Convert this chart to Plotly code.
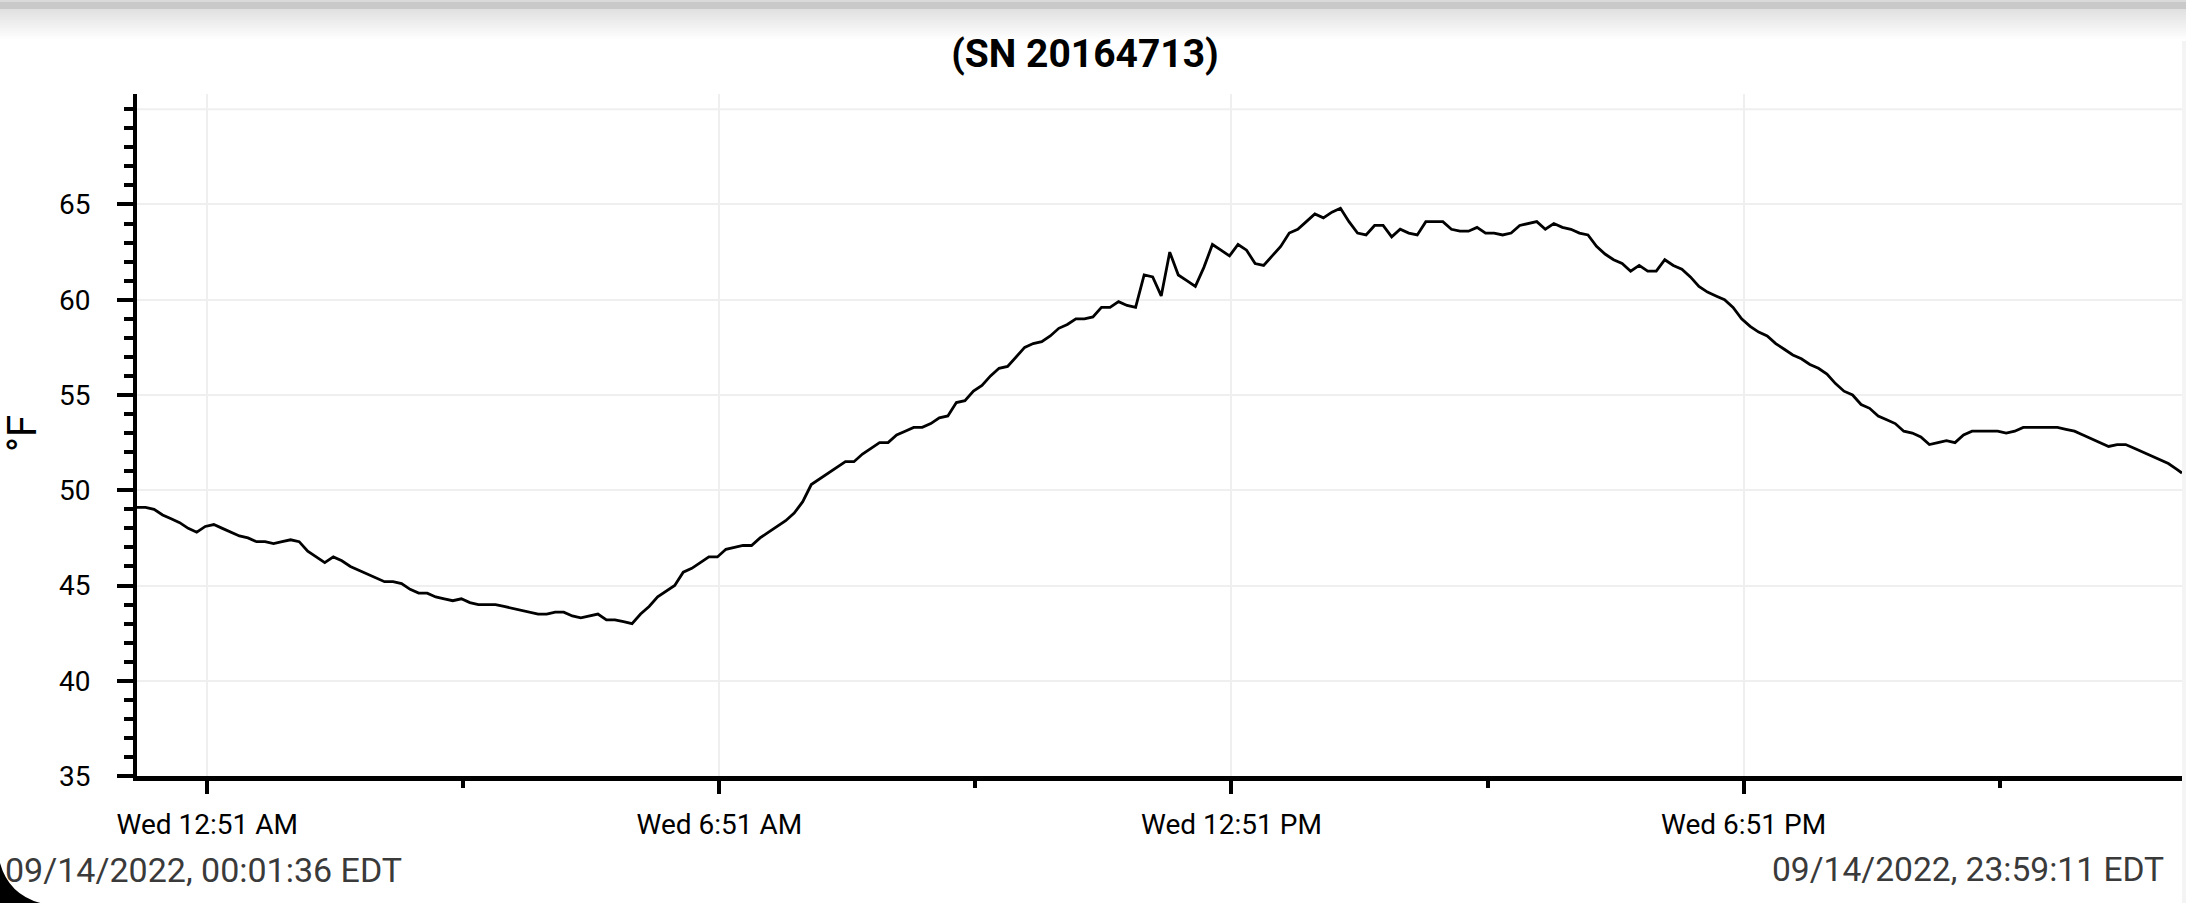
import pandas as pd
import plotly.graph_objects as go

# logger readings, one every 6 minutes from the first stamp
title_text = "(SN 20164713)"
first_stamp = "2022-09-14 00:01:36"
last_stamp = "2022-09-14 23:59:11"
step_minutes = 6
start_label = "09/14/2022, 00:01:36 EDT"
end_label = "09/14/2022, 23:59:11 EDT"

temps_f = [
    49.1, 49.1, 49.0, 48.7, 48.5, 48.3, 48.0, 47.8, 48.1, 48.2,
    48.0, 47.8, 47.6, 47.5, 47.3, 47.3, 47.2, 47.3, 47.4, 47.3,
    46.8, 46.5, 46.2, 46.5, 46.3, 46.0, 45.8, 45.6, 45.4, 45.2,
    45.2, 45.1, 44.8, 44.6, 44.6, 44.4, 44.3, 44.2, 44.3, 44.1,
    44.0, 44.0, 44.0, 43.9, 43.8, 43.7, 43.6, 43.5, 43.5, 43.6,
    43.6, 43.4, 43.3, 43.4, 43.5, 43.2, 43.2, 43.1, 43.0, 43.5,
    43.9, 44.4, 44.7, 45.0, 45.7, 45.9, 46.2, 46.5, 46.5, 46.9,
    47.0, 47.1, 47.1, 47.5, 47.8, 48.1, 48.4, 48.8, 49.4, 50.3,
    50.6, 50.9, 51.2, 51.5, 51.5, 51.9, 52.2, 52.5, 52.5, 52.9,
    53.1, 53.3, 53.3, 53.5, 53.8, 53.9, 54.6, 54.7, 55.2, 55.5,
    56.0, 56.4, 56.5, 57.0, 57.5, 57.7, 57.8, 58.1, 58.5, 58.7,
    59.0, 59.0, 59.1, 59.6, 59.6, 59.9, 59.7, 59.6, 61.3, 61.2,
    60.2, 62.5, 61.3, 61.0, 60.7, 61.7, 62.9, 62.6, 62.3, 62.9,
    62.6, 61.9, 61.8, 62.3, 62.8, 63.5, 63.7, 64.1, 64.5, 64.3,
    64.6, 64.8, 64.1, 63.5, 63.4, 63.9, 63.9, 63.3, 63.7, 63.5,
    63.4, 64.1, 64.1, 64.1, 63.7, 63.6, 63.6, 63.8, 63.5, 63.5,
    63.4, 63.5, 63.9, 64.0, 64.1, 63.7, 64.0, 63.8, 63.7, 63.5,
    63.4, 62.8, 62.4, 62.1, 61.9, 61.5, 61.8, 61.5, 61.5, 62.1,
    61.8, 61.6, 61.2, 60.7, 60.4, 60.2, 60.0, 59.6, 59.0, 58.6,
    58.3, 58.1, 57.7, 57.4, 57.1, 56.9, 56.6, 56.4, 56.1, 55.6,
    55.2, 55.0, 54.5, 54.3, 53.9, 53.7, 53.5, 53.1, 53.0, 52.8,
    52.4, 52.5, 52.6, 52.5, 52.9, 53.1, 53.1, 53.1, 53.1, 53.0,
    53.1, 53.3, 53.3, 53.3, 53.3, 53.3, 53.2, 53.1, 52.9, 52.7,
    52.5, 52.3, 52.4, 52.4, 52.2, 52.0, 51.8, 51.6, 51.4, 51.1,
]
last_temp_f = 50.9

tick_times = ["2022-09-14 00:51", "2022-09-14 06:51", "2022-09-14 12:51", "2022-09-14 18:51"]
tick_labels = ["Wed 12:51 AM", "Wed 6:51 AM", "Wed 12:51 PM", "Wed 6:51 PM"]
minor_tick_times = ["2022-09-14 03:51", "2022-09-14 09:51", "2022-09-14 15:51", "2022-09-14 21:51"]
y_tick_values = [35, 40, 45, 50, 55, 60, 65]
y_top = 70.8
y_bottom = 35

times = list(pd.date_range(first_stamp, periods=len(temps_f), freq=f"{step_minutes}min"))
times.append(pd.Timestamp(last_stamp))
temps = temps_f + [last_temp_f]

W, H = 2186, 903
margin = dict(l=137, r=4, t=94, b=127)
plot_w = W - margin["l"] - margin["r"]
plot_h = H - margin["t"] - margin["b"]


def paper_x(px):
    return (px - margin["l"]) / plot_w


def paper_y(py):
    return (H - margin["b"] - py) / plot_h


font = "Roboto, Arial, sans-serif"
grid = "#efefef"

fig = go.Figure()
fig.add_trace(go.Scatter(
    x=times, y=temps, mode="lines",
    line=dict(color="black", width=2.8),
    showlegend=False,
))

shapes = []
# faint top gridline at 70 (no label there)
shapes.append(dict(type="line", xref="paper", yref="y", x0=0, x1=1, y0=70, y1=70,
                   line=dict(color=grid, width=2), layer="below"))

# grey shadow band across the very top of the page
shapes.append(dict(type="rect", xref="paper", yref="paper", x0=paper_x(-5), x1=paper_x(W + 5),
                   y0=paper_y(2), y1=paper_y(-2), fillcolor="#dadada", line_width=0, layer="above"))
shapes.append(dict(type="rect", xref="paper", yref="paper", x0=paper_x(-5), x1=paper_x(W + 5),
                   y0=paper_y(9), y1=paper_y(2), fillcolor="#c9c9c9", line_width=0, layer="above"))
steps = 16
for i in range(steps):
    top = 9 + i * 2
    shade = int(0xe0 + (0xff - 0xe0) * (i + 1) / steps)
    shapes.append(dict(type="rect", xref="paper", yref="paper", x0=paper_x(-5), x1=paper_x(W + 5),
                       y0=paper_y(top + 2), y1=paper_y(top), fillcolor=f"rgb({shade},{shade},{shade})",
                       line_width=0, layer="above"))

# thin light strip at the right page edge
shapes.append(dict(type="rect", xref="paper", yref="paper", x0=paper_x(2182), x1=paper_x(W + 5),
                   y0=paper_y(H), y1=paper_y(40), fillcolor="#f4f4f4", line_width=0, layer="below"))

# dark rounded screen corner, bottom left
p = [(paper_x(0), paper_y(863)), (paper_x(10), paper_y(899)), (paper_x(50), paper_y(905)),
     (paper_x(-5), paper_y(910))]
corner_path = (f"M {p[0][0]},{p[0][1]} Q {p[1][0]},{p[1][1]} {p[2][0]},{p[2][1]} "
               f"L {p[3][0]},{p[3][1]} L {paper_x(-5)},{p[0][1]} Z")
shapes.append(dict(type="path", xref="paper", yref="paper", path=corner_path,
                   fillcolor="black", line_width=0, layer="above"))

annotations = [
    dict(text="°F", xref="paper", yref="paper", x=paper_x(22), y=paper_y(434),
         xanchor="center", yanchor="middle", textangle=-90, showarrow=False,
         font=dict(family=font, size=40, color="black")),
    dict(text=start_label, xref="paper", yref="paper", x=paper_x(3), y=paper_y(870),
         xanchor="left", yanchor="middle", showarrow=False,
         font=dict(family=font, size=34, color="#3a3a3a")),
    dict(text=end_label, xref="paper", yref="paper", x=paper_x(2166), y=paper_y(870),
         xanchor="right", yanchor="middle", showarrow=False,
         font=dict(family=font, size=33.6, color="#3a3a3a")),
]

fig.update_layout(
    width=W, height=H, margin=dict(**margin, pad=0),
    paper_bgcolor="white", plot_bgcolor="white",
    title=dict(text=title_text, x=1085 / W, xanchor="center", y=1 - 53 / H, yanchor="middle",
               font=dict(family=font, size=39, color="black", weight="bold")),
    shapes=shapes, annotations=annotations,
    showlegend=False,
)

fig.update_xaxes(
    type="date", range=[first_stamp, last_stamp],
    showline=True, linecolor="black", linewidth=5,
    ticks="outside", ticklen=13, tickwidth=4, tickcolor="black",
    tickmode="array", tickvals=tick_times, ticktext=tick_labels,
    tickfont=dict(family=font, size=28, color="black"), ticklabelstandoff=6,
    showgrid=True, gridcolor=grid, gridwidth=2, zeroline=False,
    minor=dict(tickmode="array", tickvals=minor_tick_times, ticks="outside",
               ticklen=7, tickwidth=4, tickcolor="black", showgrid=False),
)

fig.update_yaxes(
    range=[y_bottom, y_top],
    showline=True, linecolor="black", linewidth=4,
    ticks="outside", ticklen=16, tickwidth=4, tickcolor="black",
    tickmode="array", tickvals=y_tick_values,
    tickfont=dict(family=font, size=28, color="black"), ticklabelstandoff=21,
    showgrid=True, gridcolor=grid, gridwidth=2, zeroline=False,
    minor=dict(tickmode="linear", tick0=35, dtick=1, ticks="outside",
               ticklen=9, tickwidth=4, tickcolor="black", showgrid=False),
)

fig.write_html(
    "out.html",
    config={"displayModeBar": False},
    post_script="document.body.style.margin='0';document.body.style.overflow='hidden';",
)
